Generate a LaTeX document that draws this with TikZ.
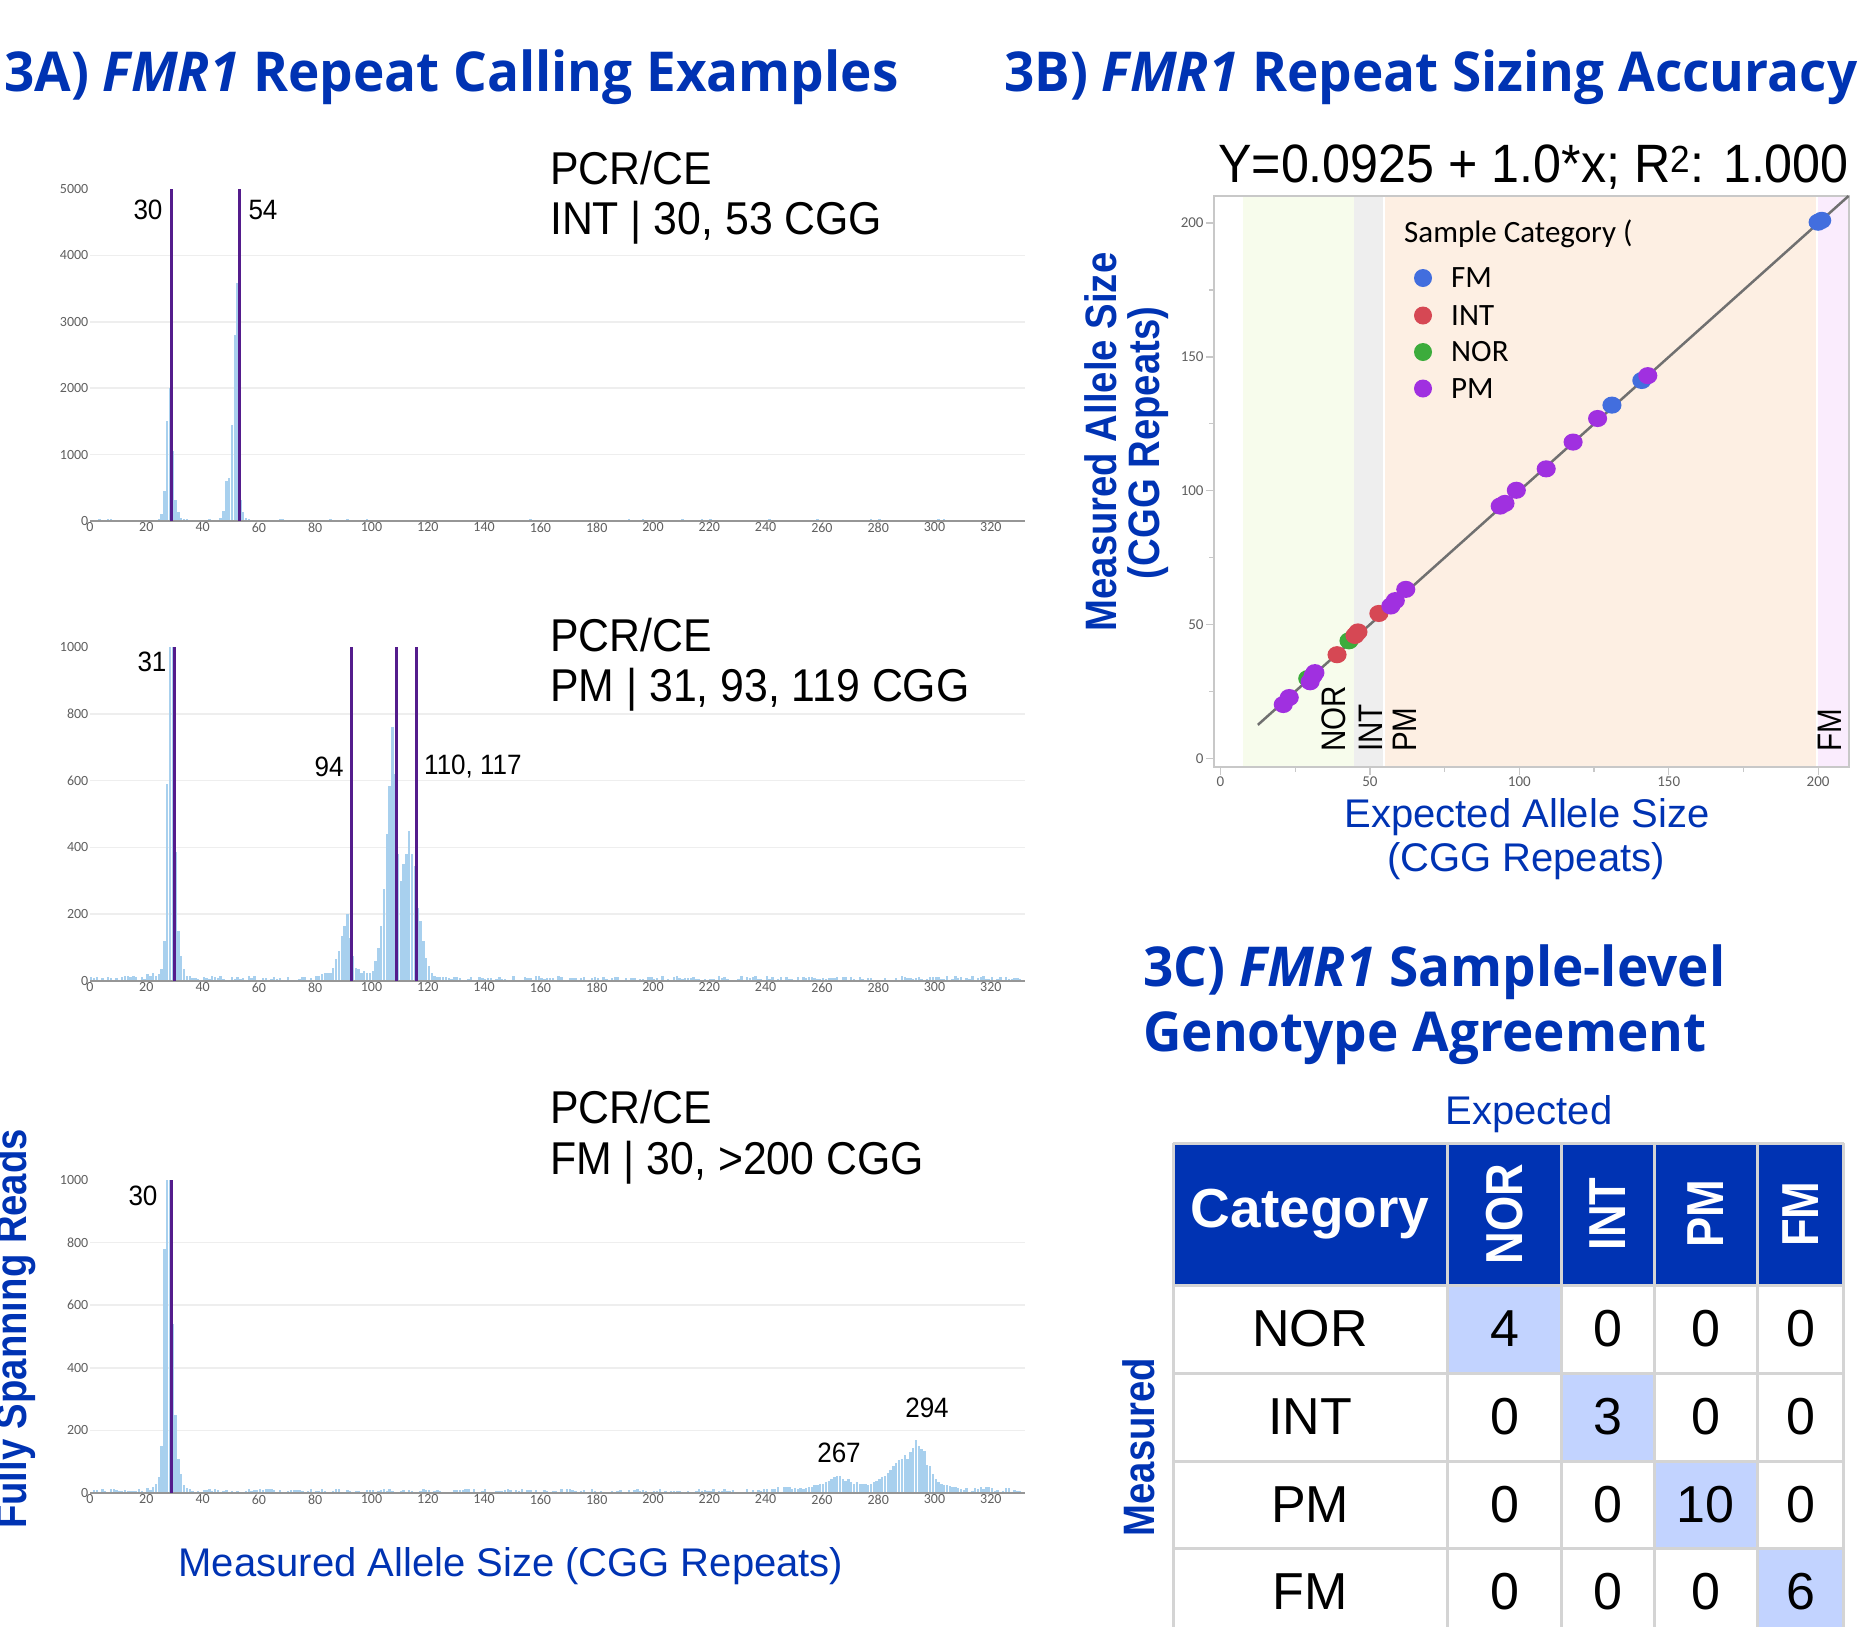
\documentclass[tikz,border=0pt]{standalone}
\usepackage{fontspec}
\setmainfont{Liberation Sans}
\newfontfamily\headfont{Open Sans}[FakeStretch=0.965]
\newfontfamily\plotfont{Liberation Sans}[FakeStretch=0.93]
\newfontfamily\tickfont{Carlito}
\newfontfamily\sidefont{Liberation Sans}[FakeStretch=0.87]
\usetikzlibrary{positioning}

\definecolor{titleblue}{RGB}{0,51,179}
\definecolor{barblue}{RGB}{168,208,238}
\definecolor{calline}{RGB}{84,28,140}
\definecolor{gridgray}{RGB}{238,238,238}
\definecolor{axisgray}{RGB}{150,150,150}
\definecolor{ticktext}{RGB}{95,95,95}
\definecolor{framegray}{RGB}{200,200,200}
\definecolor{fitgray}{RGB}{112,112,112}
\definecolor{cellblue}{RGB}{194,211,255}
\definecolor{cellline}{RGB}{212,212,212}
\definecolor{norband}{RGB}{247,252,236}
\definecolor{intband}{RGB}{238,238,238}
\definecolor{pmband}{RGB}{253,239,227}
\definecolor{fmband}{RGB}{250,236,253}
\definecolor{fmdot}{RGB}{66,110,222}
\definecolor{intdot}{RGB}{214,72,84}
\definecolor{nordot}{RGB}{60,172,60}
\definecolor{pmdot}{RGB}{160,48,224}

\tikzset{
  paneltitle/.style={font=\headfont\bfseries\fontsize{55}{60}\selectfont, text=titleblue, inner sep=0pt, anchor=base west},
  axislabel/.style={font=\fontsize{40}{44}\selectfont, text=titleblue, inner sep=0pt},
  sidelabel/.style={font=\sidefont\bfseries\fontsize{44}{48}\selectfont, text=titleblue, inner sep=0pt, rotate=90},
  assaylabel/.style={font=\plotfont\fontsize{46}{50}\selectfont, inner sep=0pt, anchor=base west},
  peaklabel/.style={font=\plotfont\fontsize{28}{30}\selectfont, inner sep=0pt},
  histtick/.style={font=\tickfont\fontsize{14}{16}\selectfont, text=ticktext, inner sep=1.5pt},
  scattick/.style={font=\tickfont\fontsize{15}{17}\selectfont, text=ticktext, inner sep=1.5pt},
  gridline/.style={gridgray, line width=1.5pt},
  baseaxis/.style={axisgray, line width=2pt},
  callline/.style={calline, line width=2.8pt},
  bandlabel/.style={font=\sidefont\fontsize{34}{36}\selectfont, inner sep=0pt, rotate=90, anchor=base west},
  legendtext/.style={font=\tickfont\fontsize{31}{33}\selectfont, inner sep=0pt},
  cellrule/.style={cellline, line width=3pt},
  cellnum/.style={font=\fontsize{52}{56}\selectfont, inner sep=0pt},
  headcell/.style={font=\sidefont\bfseries\fontsize{52}{56}\selectfont, text=white, inner sep=0pt, rotate=90}
}

\begin{document}
\begin{tikzpicture}[x=1pt, y=-1pt]
  \useasboundingbox (0,0) rectangle (1863,1626);
  \pgfmathsetseed{1234}

  % panel titles
  \node[paneltitle] (titleA) at (4,91) {3A) \textit{FMR1} Repeat Calling Examples};
  \node[paneltitle] (titleB) at (1004,91) {3B) \textit{FMR1} Repeat Sizing Accuracy};
  \node[paneltitle] (titleC1) at (1143,986) {3C) \textit{FMR1} Sample-level};
  \node[paneltitle] (titleC2) at (1143,1051) {Genotype Agreement};

  % 3A example 1 (INT)
  \begin{scope}[shift={(90,521)}, xscale=2.815, yscale=-0.0664]
    \foreach \g in {1000,2000,3000,4000} \draw[gridline] (0,\g) -- (332,\g);
    \foreach \v in {0,...,330} {
      \pgfmathsetmacro\h{25*rnd}
      \fill[barblue] (\v,0) rectangle (\v+0.85,\h);
    }
    \foreach \v/\h in {24/30,25/100,26/450,27/1500,28/2000,29/1050,30/320,31/130,32/40,33/35,34/30,
                       46/40,47/150,48/600,49/650,50/1450,51/2800,52/3580,53/320,54/130,55/50,56/25}
      \fill[barblue] (\v,0) rectangle (\v+0.85,\h);
    \draw[baseaxis] (0,0) -- (332,0);
    \foreach \c in {29,53} \draw[callline] (\c,0) -- (\c,5000);
    \foreach \t in {0,20,...,320} \node[histtick, anchor=north] (ax\t) at (\t,0) {\t};
    \foreach \g in {0,1000,...,5000} \node[histtick, anchor=east] (ay\g) at (0,\g) {\g};
  \end{scope}
  \node[assaylabel] (assayA1) at (550,184) {PCR/CE};
  \node[assaylabel] (assayA2) at (550,234) {INT | 30, 53 CGG};
  \node[peaklabel] (pkA1) at (148,210) {30};
  \node[peaklabel] (pkA2) at (263,210) {54};

  % 3A example 2 (PM)
  \begin{scope}[shift={(90,981)}, xscale=2.815, yscale=-0.334]
    \foreach \g in {200,400,600,800} \draw[gridline] (0,\g) -- (332,\g);
    \foreach \v in {0,...,330} {
      \pgfmathsetmacro\h{15*rnd}
      \fill[barblue] (\v,0) rectangle (\v+0.85,\h);
    }
    \foreach \v/\h in {20/20,21/15,22/25,23/15,24/20,25/35,26/120,27/590,28/1000,29/1000,30/385,31/150,32/75,33/35,34/15,
                       80/12,81/15,82/20,83/25,84/25,85/25,86/40,87/65,88/90,89/135,90/165,91/200,92/130,93/75,94/40,
                       95/35,96/25,97/30,98/25,99/25,100/30,101/60,102/100,103/165,104/275,105/440,106/585,107/760,
                       108/620,109/380,110/300,111/350,112/380,113/450,114/380,115/345,116/220,117/180,118/120,
                       119/70,120/45,121/25,122/15,123/12,124/10}
      \fill[barblue] (\v,0) rectangle (\v+0.85,\h);
    \draw[baseaxis] (0,0) -- (332,0);
    \foreach \c in {30,93,109,116} \draw[callline] (\c,0) -- (\c,1000);
    \foreach \t in {0,20,...,320} \node[histtick, anchor=north] (bx\t) at (\t,0) {\t};
    \foreach \g in {0,200,...,1000} \node[histtick, anchor=east] (by\g) at (0,\g) {\g};
  \end{scope}
  \node[assaylabel] (assayB1) at (550,651) {PCR/CE};
  \node[assaylabel] (assayB2) at (550,701) {PM | 31, 93, 119 CGG};
  \node[peaklabel] (pkB1) at (152,662) {31};
  \node[peaklabel] (pkB2) at (329,767) {94};
  \node[peaklabel, anchor=west] (pkB3) at (424,767) {110, 117};

  % 3A example 3 (FM)
  \begin{scope}[shift={(90,1493)}, xscale=2.815, yscale=-0.313]
    \foreach \g in {200,400,600,800} \draw[gridline] (0,\g) -- (332,\g);
    \foreach \v in {0,...,330} {
      \pgfmathsetmacro\h{(\v>240 ? 22 : 14)*rnd}
      \fill[barblue] (\v,0) rectangle (\v+0.85,\h);
    }
    \foreach \v/\h in {20/15,21/10,22/20,23/30,24/50,25/150,26/780,27/1000,28/1000,29/540,30/250,31/110,32/60,33/25,34/15,
                       250/12,252/15,254/15,255/20,256/20,257/25,258/25,259/30,260/30,261/35,262/40,263/45,264/50,
                       265/55,266/55,267/45,268/40,269/45,270/35,271/30,272/35,273/28,274/30,275/28,276/25,277/30,
                       278/35,279/38,280/45,281/50,282/55,283/65,284/75,285/85,286/95,287/105,288/110,289/120,
                       290/110,291/130,292/145,293/170,294/150,295/140,296/135,297/90,298/85,299/60,300/45,
                       301/35,302/30,303/25,304/25,305/20,306/20,307/18,308/15}
      \fill[barblue] (\v,0) rectangle (\v+0.85,\h);
    \draw[baseaxis] (0,0) -- (332,0);
    \draw[callline] (29,0) -- (29,1000);
    \foreach \t in {0,20,...,320} \node[histtick, anchor=north] (cx\t) at (\t,0) {\t};
    \foreach \g in {0,200,...,1000} \node[histtick, anchor=east] (cy\g) at (0,\g) {\g};
  \end{scope}
  \node[assaylabel] (assayC1) at (550,1123) {PCR/CE};
  \node[assaylabel] (assayC2) at (550,1174) {FM | 30, >200 CGG};
  \node[peaklabel] (pkC1) at (143,1196) {30};
  \node[peaklabel] (pkC2) at (839,1453) {267};
  \node[peaklabel] (pkC3) at (927,1408) {294};

  % 3A axis labels
  \node[sidelabel, anchor=base] (readsA) at (26,1329) {Fully Spanning Reads};
  \node[axislabel] (sizeA) at (511,1566) {Measured Allele Size (CGG Repeats)};

  % 3B scatter
  \node[font=\plotfont\fontsize{54}{58}\selectfont, inner sep=0pt, anchor=base west] (fit) at (1218,182) {Y=0.0925 + 1.0*x; R\textsuperscript{2}: 1.000};
  \begin{scope}[shift={(1220.5,758.6)}, xscale=2.988, yscale=-2.678]
    % category bands
    \fill[norband] (7.5,-3.1) rectangle (44.8,210.1);
    \fill[intband] (44.8,-3.1) rectangle (54.4,210.1);
    \fill[pmband] (55.1,-3.1) rectangle (199.3,210.1);
    \fill[fmband] (199.9,-3.1) rectangle (210.3,210.1);
    \draw[framegray, line width=1.5pt] (-2.2,-3.1) rectangle (210.3,210.1);
    \foreach \t in {0,50,...,200} {
      \draw[framegray, line width=1.2pt] (-2.2,\t) -- (-4.9,\t);
      \draw[framegray, line width=1.2pt] (\t,-3.1) -- (\t,-6.1);
      \node[scattick, anchor=east] (sy\t) at (-5.1,\t) {\t};
      \node[scattick, anchor=north] (sx\t) at (\t,-6.3) {\t};
    }
    \foreach \t in {25,75,125,175} {
      \draw[framegray, line width=1.2pt] (-2.2,\t) -- (-3.9,\t);
      \draw[framegray, line width=1.2pt] (\t,-3.1) -- (\t,-5);
    }
    \draw[fitgray, line width=2.5pt] (12.5,12.6) -- (210.2,210.1);
    % samples
    \foreach \x/\y in {43/44,29.2/29.9} \fill[nordot] (\x,\y) circle (3.2);
    \foreach \x/\y in {200/200.3,201.2/201,141/141.2,131/132} \fill[fmdot] (\x,\y) circle (3.2);
    \foreach \x/\y in {53/54.2,46/47.3,45/46,39/38.8} \fill[intdot] (\x,\y) circle (3.2);
    \foreach \x/\y in {143/143,126.2/127,118/118.2,109/108.2,99/100.2,93.6/94.3,95.2/95.3,62/63.2,58.5/59,57/57,
                       31.6/32.1,31/31,30/28.7,23/22.8,21/20.2}
      \fill[pmdot] (\x,\y) circle (3.2);
  \end{scope}
  \node[bandlabel] (bandnor) at (1345,752) {NOR};
  \node[bandlabel] (bandint) at (1382,752) {INT};
  \node[bandlabel] (bandpm) at (1416,752) {PM};
  \node[bandlabel] (bandfm) at (1841,752) {FM};

  % legend
  \begin{scope}
    \clip (1395,200) rectangle (1637,260);
    \node[legendtext, anchor=base west] (legtitle) at (1404,242) {Sample Category (};
  \end{scope}
  \foreach \cat/\col/\y in {FM/fmdot/278,INT/intdot/315.5,NOR/nordot/352,PM/pmdot/388.5} {
    \fill[\col] (1423,\y) circle (9);
    \node[legendtext, anchor=west] (leg\cat) at (1451,\y) {\cat};
  }

  \node[sidelabel] (sizeB1) at (1101,442) {Measured Allele Size};
  \node[sidelabel] (sizeB2) at (1148,443) {(CGG Repeats)};
  \node[axislabel] (expB1) at (1527,817) {Expected Allele Size};
  \node[axislabel] (expB2) at (1526,861) {(CGG Repeats)};

  % 3C table
  \node[axislabel] (expected) at (1529,1114) {Expected};
  \node[sidelabel] (measured) at (1139,1447) {Measured};
  \fill[titleblue] (1173,1143) rectangle (1843.5,1285);
  \fill[cellblue] (1447.5,1285) rectangle (1561.5,1373);
  \fill[cellblue] (1561.5,1373) rectangle (1654,1461);
  \fill[cellblue] (1654,1461) rectangle (1757.5,1548);
  \fill[cellblue] (1757.5,1548) rectangle (1843.5,1640);
  \foreach \x in {1173,1447.5,1561.5,1654,1757.5,1843.5} \draw[cellrule] (\x,1143) -- (\x,1640);
  \foreach \y in {1143,1285,1373,1461,1548} \draw[cellrule] (1173,\y) -- (1843.5,\y);
  \node[font=\bfseries\fontsize{55}{60}\selectfont, text=white, inner sep=0pt] (hcat) at (1310,1214) {Category};
  \foreach \lab/\x in {NOR/1504.5,INT/1607.75,PM/1705.75,FM/1800.5}
    \node[headcell] (h\lab) at (\x,1214) {\lab};
  \foreach \lab/\y/\a/\b/\c/\d in {NOR/1329/4/0/0/0,INT/1417/0/3/0/0,PM/1504.5/0/0/10/0,FM/1592/0/0/0/6} {
    \node[cellnum] (r\lab) at (1310,\y) {\lab};
    \node[cellnum] (r\lab-1) at (1504.5,\y) {\a};
    \node[cellnum] (r\lab-2) at (1607.75,\y) {\b};
    \node[cellnum] (r\lab-3) at (1705.75,\y) {\c};
    \node[cellnum] (r\lab-4) at (1800.5,\y) {\d};
  }
\end{tikzpicture}
\end{document}
